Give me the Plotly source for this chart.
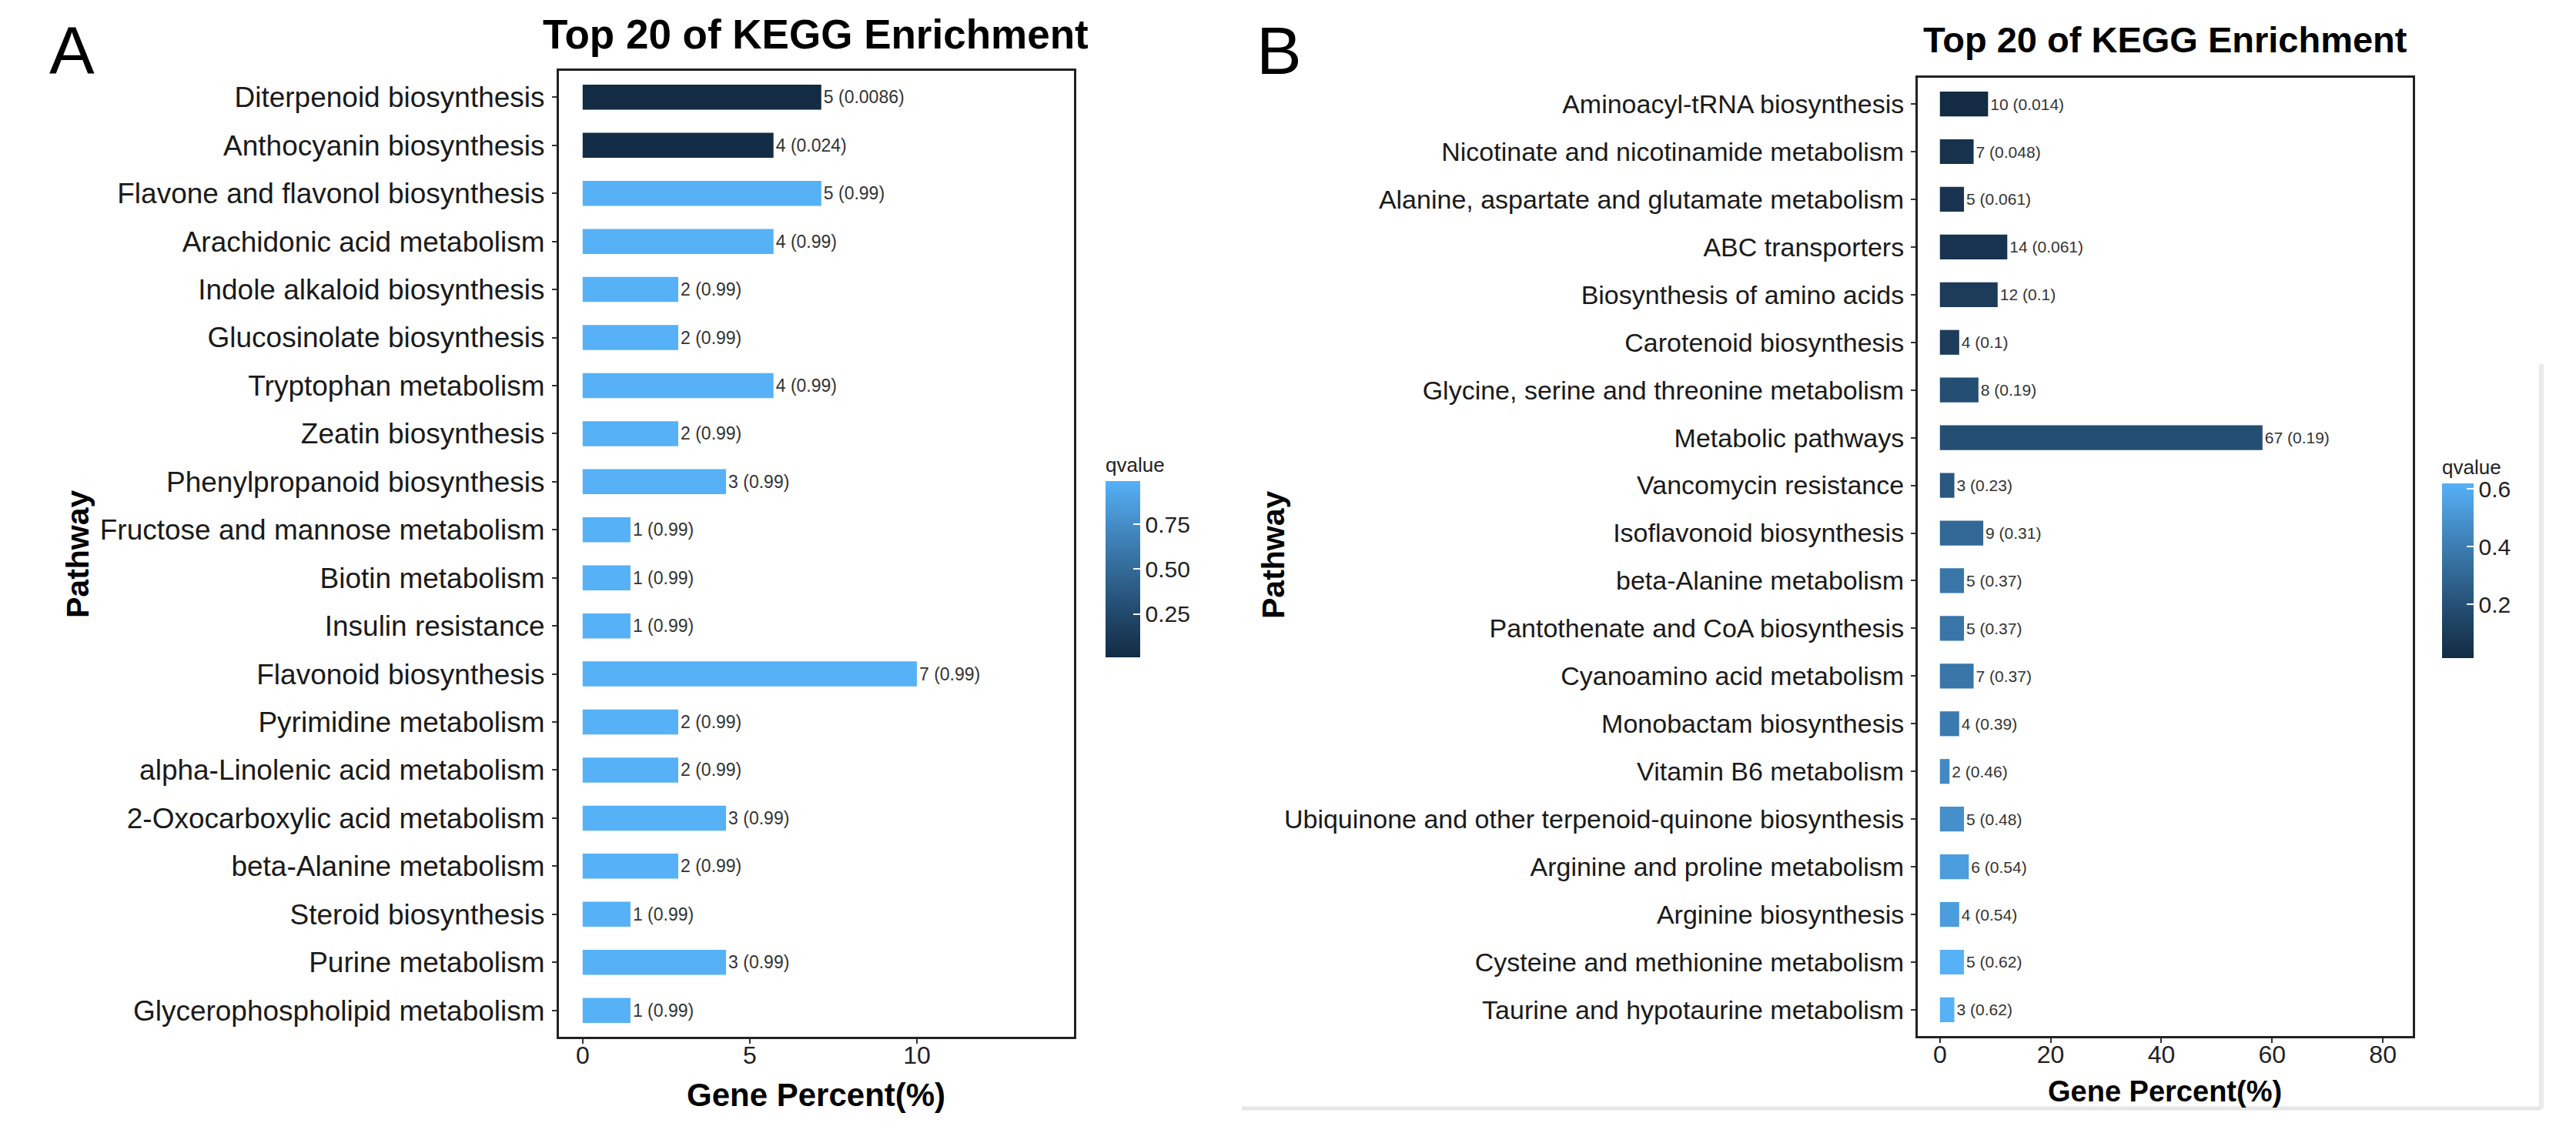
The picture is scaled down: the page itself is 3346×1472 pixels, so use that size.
import plotly.graph_objects as go

# ---------------- Data ----------------
pathways_a = [
    "Diterpenoid biosynthesis", "Anthocyanin biosynthesis", "Flavone and flavonol biosynthesis",
    "Arachidonic acid metabolism", "Indole alkaloid biosynthesis", "Glucosinolate biosynthesis",
    "Tryptophan metabolism", "Zeatin biosynthesis", "Phenylpropanoid biosynthesis",
    "Fructose and mannose metabolism", "Biotin metabolism", "Insulin resistance",
    "Flavonoid biosynthesis", "Pyrimidine metabolism", "alpha-Linolenic acid metabolism",
    "2-Oxocarboxylic acid metabolism", "beta-Alanine metabolism", "Steroid biosynthesis",
    "Purine metabolism", "Glycerophospholipid metabolism",
]
counts_a = [5, 4, 5, 4, 2, 2, 4, 2, 3, 1, 1, 1, 7, 2, 2, 3, 2, 1, 3, 1]
percent_a = [7.14, 5.71, 7.14, 5.71, 2.86, 2.86, 5.71, 2.86, 4.29, 1.43,
             1.43, 1.43, 10.0, 2.86, 2.86, 4.29, 2.86, 1.43, 4.29, 1.43]
qvalue_a = [0.0086, 0.024, 0.99, 0.99, 0.99, 0.99, 0.99, 0.99, 0.99, 0.99,
            0.99, 0.99, 0.99, 0.99, 0.99, 0.99, 0.99, 0.99, 0.99, 0.99]

pathways_b = [
    "Aminoacyl-tRNA biosynthesis", "Nicotinate and nicotinamide metabolism",
    "Alanine, aspartate and glutamate metabolism", "ABC transporters",
    "Biosynthesis of amino acids", "Carotenoid biosynthesis",
    "Glycine, serine and threonine metabolism", "Metabolic pathways",
    "Vancomycin resistance", "Isoflavonoid biosynthesis", "beta-Alanine metabolism",
    "Pantothenate and CoA biosynthesis", "Cyanoamino acid metabolism",
    "Monobactam biosynthesis", "Vitamin B6 metabolism",
    "Ubiquinone and other terpenoid-quinone biosynthesis", "Arginine and proline metabolism",
    "Arginine biosynthesis", "Cysteine and methionine metabolism",
    "Taurine and hypotaurine metabolism",
]
counts_b = [10, 7, 5, 14, 12, 4, 8, 67, 3, 9, 5, 5, 7, 4, 2, 5, 6, 4, 5, 3]
percent_b = [8.70, 6.09, 4.35, 12.17, 10.43, 3.48, 6.96, 58.26, 2.61, 7.83,
             4.35, 4.35, 6.09, 3.48, 1.74, 4.35, 5.22, 3.48, 4.35, 2.61]
qvalue_b = [0.014, 0.048, 0.061, 0.061, 0.1, 0.1, 0.19, 0.19, 0.23, 0.31,
            0.37, 0.37, 0.37, 0.39, 0.46, 0.48, 0.54, 0.54, 0.62, 0.62]

xticks_a = [0, 5, 10]
xticks_b = [0, 20, 40, 60, 80]
cbar_ticks_a = [0.25, 0.50, 0.75]
cbar_ticks_b = [0.2, 0.4, 0.6]

# ---------------- Styling ----------------
W, H = 3346, 1472
FONT = "Arial, Liberation Sans, sans-serif"
gg_scale = [[0.0, "#132B43"], [0.25, "#22496C"], [0.5, "#336A98"],
            [0.75, "#448CC6"], [1.0, "#56B1F7"]]

def px_x(p):
    return p / W

def px_y(p):
    return 1 - p / H

labels_a = [f"{c} ({q:g})" for c, q in zip(counts_a, qvalue_a)]
labels_b = [f"{c} ({q:g})" for c, q in zip(counts_b, qvalue_b)]

fig = go.Figure()
fig.add_trace(go.Bar(
    y=pathways_a, x=percent_a, orientation="h", width=0.52,
    marker=dict(color=qvalue_a, coloraxis="coloraxis", line=dict(width=0)),
    text=labels_a, textposition="outside", constraintext="none",
    textfont=dict(family=FONT, size=23, color="#333333"),
    cliponaxis=False, xaxis="x", yaxis="y", showlegend=False,
))
fig.add_trace(go.Bar(
    y=pathways_b, x=percent_b, orientation="h", width=0.52,
    marker=dict(color=qvalue_b, coloraxis="coloraxis2", line=dict(width=0)),
    text=labels_b, textposition="outside", constraintext="none",
    textfont=dict(family=FONT, size=21, color="#333333"),
    cliponaxis=False, xaxis="x2", yaxis="y2", showlegend=False,
))

axis_common = dict(showline=True, linecolor="#222222", linewidth=3, mirror=True,
                   showgrid=False, zeroline=False, ticks="outside", ticklen=6,
                   tickwidth=2, tickcolor="#333333")

fig.update_layout(
    width=W, height=H, autosize=False,
    margin=dict(l=0, r=0, t=0, b=0),
    paper_bgcolor="white", plot_bgcolor="white",
    font=dict(family=FONT, color="#1a1a1a"),
    xaxis=dict(domain=[px_x(718), px_x(1387)], anchor="y", range=[-0.71, 14.7],
               tickvals=xticks_a, tickfont=dict(size=32, color="#222222"),
               ticklabelstandoff=-12, **axis_common),
    yaxis=dict(domain=[px_y(1339), px_y(84)], anchor="x", type="category",
               categoryorder="array", categoryarray=pathways_a, range=[19.55, -0.55],
               tickfont=dict(size=37, color="#1a1a1a"), ticklabelstandoff=2,
               **axis_common),
    xaxis2=dict(domain=[px_x(2483), px_x(3126)], anchor="y2", range=[-4.0, 85.4],
                tickvals=xticks_b, tickfont=dict(size=32, color="#222222"),
                ticklabelstandoff=-12, **axis_common),
    yaxis2=dict(domain=[px_y(1338), px_y(93)], anchor="x2", type="category",
                categoryorder="array", categoryarray=pathways_b, range=[19.55, -0.55],
                tickfont=dict(size=34, color="#1a1a1a"), ticklabelstandoff=2,
                **axis_common),
    coloraxis=dict(
        colorscale=gg_scale, cmin=min(qvalue_a), cmax=max(qvalue_a),
        colorbar=dict(
            x=px_x(1428), xanchor="left", xpad=0, ypad=0,
            y=px_y(714), yanchor="middle",
            len=264, lenmode="pixels", thickness=45, thicknessmode="pixels",
            outlinewidth=0, ticks="inside", ticklen=9, tickwidth=2, tickcolor="white",
            tickvals=cbar_ticks_a, tickformat=".2f",
            tickfont=dict(size=30, color="#222222"),
            title=dict(text="qvalue", side="top", font=dict(size=26, color="#222222")),
        ),
    ),
    coloraxis2=dict(
        colorscale=gg_scale, cmin=min(qvalue_b), cmax=max(qvalue_b),
        colorbar=dict(
            x=px_x(3164), xanchor="left", xpad=0, ypad=0,
            y=px_y(716), yanchor="middle",
            len=262, lenmode="pixels", thickness=41, thicknessmode="pixels",
            outlinewidth=0, ticks="inside", ticklen=9, tickwidth=2, tickcolor="white",
            tickvals=cbar_ticks_b, tickformat=".1f",
            tickfont=dict(size=30, color="#222222"),
            title=dict(text="qvalue", side="top", font=dict(size=26, color="#222222")),
        ),
    ),
)

annotations = [
    dict(text="A", x=px_x(85), y=px_y(58), font=dict(size=88, color="black")),
    dict(text="B", x=px_x(1653), y=px_y(58), font=dict(size=88, color="black")),
    dict(text="<b>Top 20 of KEGG Enrichment</b>", x=px_x(1051), y=px_y(36),
         font=dict(size=53, color="black")),
    dict(text="<b>Top 20 of KEGG Enrichment</b>", x=px_x(2804), y=px_y(44),
         font=dict(size=47, color="black")),
    dict(text="<b>Gene Percent(%)</b>", x=px_x(1052), y=px_y(1414),
         font=dict(size=42, color="black")),
    dict(text="<b>Gene Percent(%)</b>", x=px_x(2804), y=px_y(1410),
         font=dict(size=38, color="black")),
    dict(text="<b>Pathway</b>", x=px_x(93), y=px_y(712), textangle=-90,
         font=dict(size=41, color="black")),
    dict(text="<b>Pathway</b>", x=px_x(1646), y=px_y(713), textangle=-90,
         font=dict(size=41, color="black")),
]
for a in annotations:
    a.update(xref="paper", yref="paper", xanchor="center", yanchor="middle",
             showarrow=False)
    a["font"]["family"] = FONT
fig.update_layout(annotations=annotations)

# faint scan shadow around panel B
fig.add_shape(type="line", xref="paper", yref="paper",
              x0=px_x(3293), x1=px_x(3293), y0=px_y(465), y1=px_y(1432),
              line=dict(color="#ebebeb", width=6))
fig.add_shape(type="line", xref="paper", yref="paper",
              x0=px_x(1605), x1=px_x(3293), y0=px_y(1432), y1=px_y(1432),
              line=dict(color="#e6e6e6", width=5))

fig.write_html("out.html")
